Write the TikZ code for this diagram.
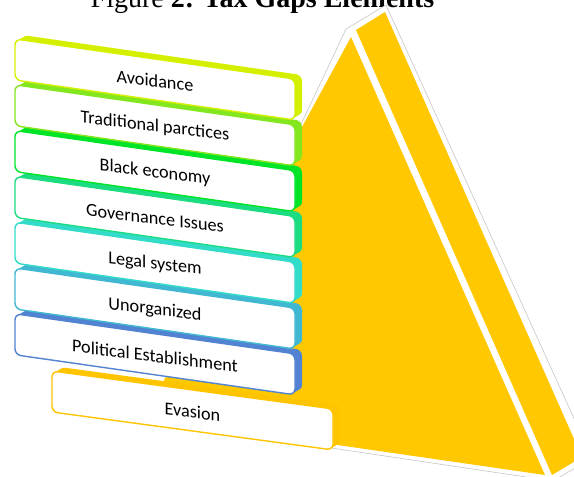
\documentclass[tikz,border=0pt]{standalone}
\usepackage{fontspec}
\setmainfont{Liberation Serif}
\newfontfamily\boxfont{Carlito}
\usetikzlibrary{calc}
\definecolor{cA}{RGB}{212,240,0}
\definecolor{cB}{RGB}{132,230,30}
\definecolor{cC}{RGB}{0,228,40}
\definecolor{cD}{RGB}{28,220,130}
\definecolor{cE}{RGB}{50,220,200}
\definecolor{cF}{RGB}{64,184,210}
\definecolor{cG}{RGB}{82,130,210}
\definecolor{cH}{RGB}{255,196,0}
\definecolor{tri}{RGB}{255,200,0}
\tikzset{
  faceb/.style={fill=white, draw=#1, line width=1.4pt, rounded corners=6pt},
  extb/.style={fill=#1, rounded corners=6pt},
  lbl/.style={font=\boxfont\fontsize{18.2}{20}\selectfont, transform shape, yslant=0.02, inner sep=0pt},
  outl/.style={draw=gray!45, line width=0.6pt, fill=white},
}
% #1 name, #2 x, #3 y, #4 colour, #5 width, #6 slant, #7 text
\newcommand\tgbox[7]{%
  \begin{scope}[shift={(#2,#3)}, yslant=#6]
    \foreach \k in {1,...,5}{
      \fill[extb=#4] (1.4*\k,-1*\k) rectangle ++(#5,41);
    }
    \draw[faceb=#4] (0,0) rectangle (#5,41);
    \node[lbl] (#1) at (#5/2,22) {#7};
  \end{scope}
}
\begin{document}
\begin{tikzpicture}[x=1pt,y=-1pt]
\useasboundingbox (0,0) rectangle (574,477);
\clip (0,0) rectangle (574,477);

\node[anchor=base, font=\fontsize{28}{30}\selectfont, inner sep=0pt] (title) at (262.5,7) {Figure \textbf{2: Tax Gaps Elements}};

% pyramid
\path[outl] (346,29) -- (386,5) -- (592,458) -- (553,481) -- (150,421) -- (304,118) -- cycle;
\fill[tri] (351,37) -- (545,475) -- (144,417) -- cycle;
\fill[tri] (356,30) -- (385,12) -- (582,457) -- (552,475) -- cycle;

% boxes, bottom first
\tgbox{evasion}{52}{371}{cH}{281}{-0.135}{Evasion}
\tgbox{political}{15}{313.8}{cG}{280}{-0.143}{Political Establishment}
\tgbox{unorganized}{15}{268}{cF}{280}{-0.143}{Unorganized}
\tgbox{legal}{15}{222.2}{cE}{280}{-0.143}{Legal system}
\tgbox{governance}{15}{176.4}{cD}{280}{-0.143}{Governance Issues}
\tgbox{black}{15}{130.6}{cC}{280}{-0.143}{Black economy}
\tgbox{traditional}{15}{84.8}{cB}{280}{-0.143}{Traditional parctices}
\tgbox{avoidance}{15}{39}{cA}{280}{-0.143}{Avoidance}
\end{tikzpicture}
\end{document}
